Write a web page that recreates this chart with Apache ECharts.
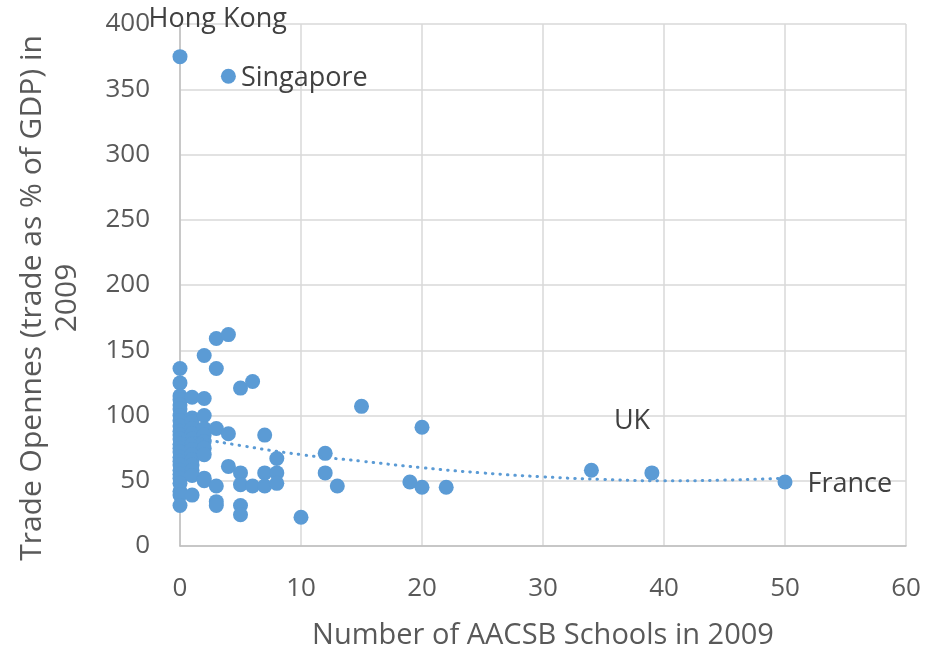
<!DOCTYPE html>
<html>
<head>
<meta charset="utf-8">
<script src="https://cdn.jsdelivr.net/npm/echarts@6/dist/echarts.min.js"></script>
<style>
html,body{margin:0;padding:0;background:#fff;}
#chart{width:926px;height:655px;}
</style>
</head>
<body>
<div id="chart"></div>
<script>
// Number of AACSB schools (x) and trade openness (y)
const schools = [
  0,0,0,0,0,0,0,0,0,0,0,0,0,0,0,0,0,0,0,0,0,0,0,0,0,0,
  1,1,1,1,1,1,1,1,1,1,1,1,1,1,
  2,2,2,2,2,2,2,2,2,2,
  3,3,3,3,3,3,
  4,4,4,4,
  5,5,5,5,5,
  6,6,
  7,7,7,
  8,8,8,
  10,12,12,13,15,19,20,20,22,34,39,50
];
const openness = [
  375,136,125,115,112,108,105,100,96,92,88,85,82,78,75,72,68,65,62,58,55,52,48,42,39,31,
  114,98,95,90,86,82,78,74,70,66,62,58,54,39,
  146,113,100,90,85,80,75,70,52,50,
  159,136,90,46,34,31,
  360,162,86,61,
  121,56,47,31,24,
  126,46,
  85,56,46,
  67,56,48,
  22,71,56,46,107,49,91,45,45,58,56,49
];
// labelled countries
const labelled = [
  {x:0, y:375, name:'Hong Kong', offset:[-44,-37]},
  {x:4, y:360, name:'Singapore', offset:[0,2]},
  {x:34, y:58, name:'UK', offset:[10,-49]},
  {x:50, y:49, name:'France', offset:[10,2]}
];
// trendline
const trendX = [0,5,10,15,20,25,30,35,40,45,50];
const trendY = [85,77,70,65,60,56,53,51,50,50.5,52];
const xTicks = [0,10,20,30,40,50,60];
const yTicks = [0,50,100,150,200,250,300,350,400];

const FONT = 'Open Sans';
const BLUE = '#5B9BD5';

const points = schools.map((x,i)=>{
  const item = {value:[x, openness[i]]};
  const lab = labelled.find(l=>l.x===x && l.y===openness[i]);
  if (lab) {
    item.label = {show:true, formatter: lab.name, position:'right', offset: lab.offset,
      color:'#404040', fontSize:27, fontFamily: FONT};
  }
  return item;
});

const chart = echarts.init(document.getElementById('chart'), null, {renderer:'canvas'});
chart.setOption({
  animation:false,
  backgroundColor:'#ffffff',
  grid:{left:180, right:20, top:24, bottom:107, containLabel:false},
  xAxis:{
    type:'value', min:xTicks[0], max:xTicks[xTicks.length-1], interval:10,
    name:'Number of AACSB Schools in 2009', nameLocation:'middle', nameGap:75,
    nameTextStyle:{color:'#595959', fontSize:29, fontFamily:FONT},
    axisLine:{show:true, lineStyle:{color:'#bfbfbf', width:1.5}},
    axisTick:{show:false},
    axisLabel:{color:'#595959', fontSize:26, fontFamily:FONT, margin:30},
    splitLine:{show:true, lineStyle:{color:'#d9d9d9', width:1.5}}
  },
  yAxis:{
    type:'value', min:yTicks[0], max:yTicks[yTicks.length-1], interval:50,
    name:'Trade Opennes (trade as % of GDP) in\n2009', nameLocation:'middle', nameGap:95,
    nameRotate:90,
    nameTextStyle:{color:'#595959', fontSize:30, fontFamily:FONT, lineHeight:35, align:'center',
      padding:[0,26,0,0]},
    axisLine:{show:true, lineStyle:{color:'#bfbfbf', width:1.5}},
    axisTick:{show:false},
    axisLabel:{color:'#595959', fontSize:26, fontFamily:FONT, margin:30},
    splitLine:{show:true, lineStyle:{color:'#d9d9d9', width:1.5}}
  },
  series:[
    {
      type:'line', data: trendX.map((x,i)=>[x, trendY[i]]), smooth:true,
      symbol:'none', z:3,
      lineStyle:{color:BLUE, width:3, type:[0.5,7], cap:'round'}
    },
    {
      type:'scatter', data: points, symbolSize:15, z:2,
      itemStyle:{color:BLUE, opacity:1}
    }
  ]
});
</script>
</body>
</html>
